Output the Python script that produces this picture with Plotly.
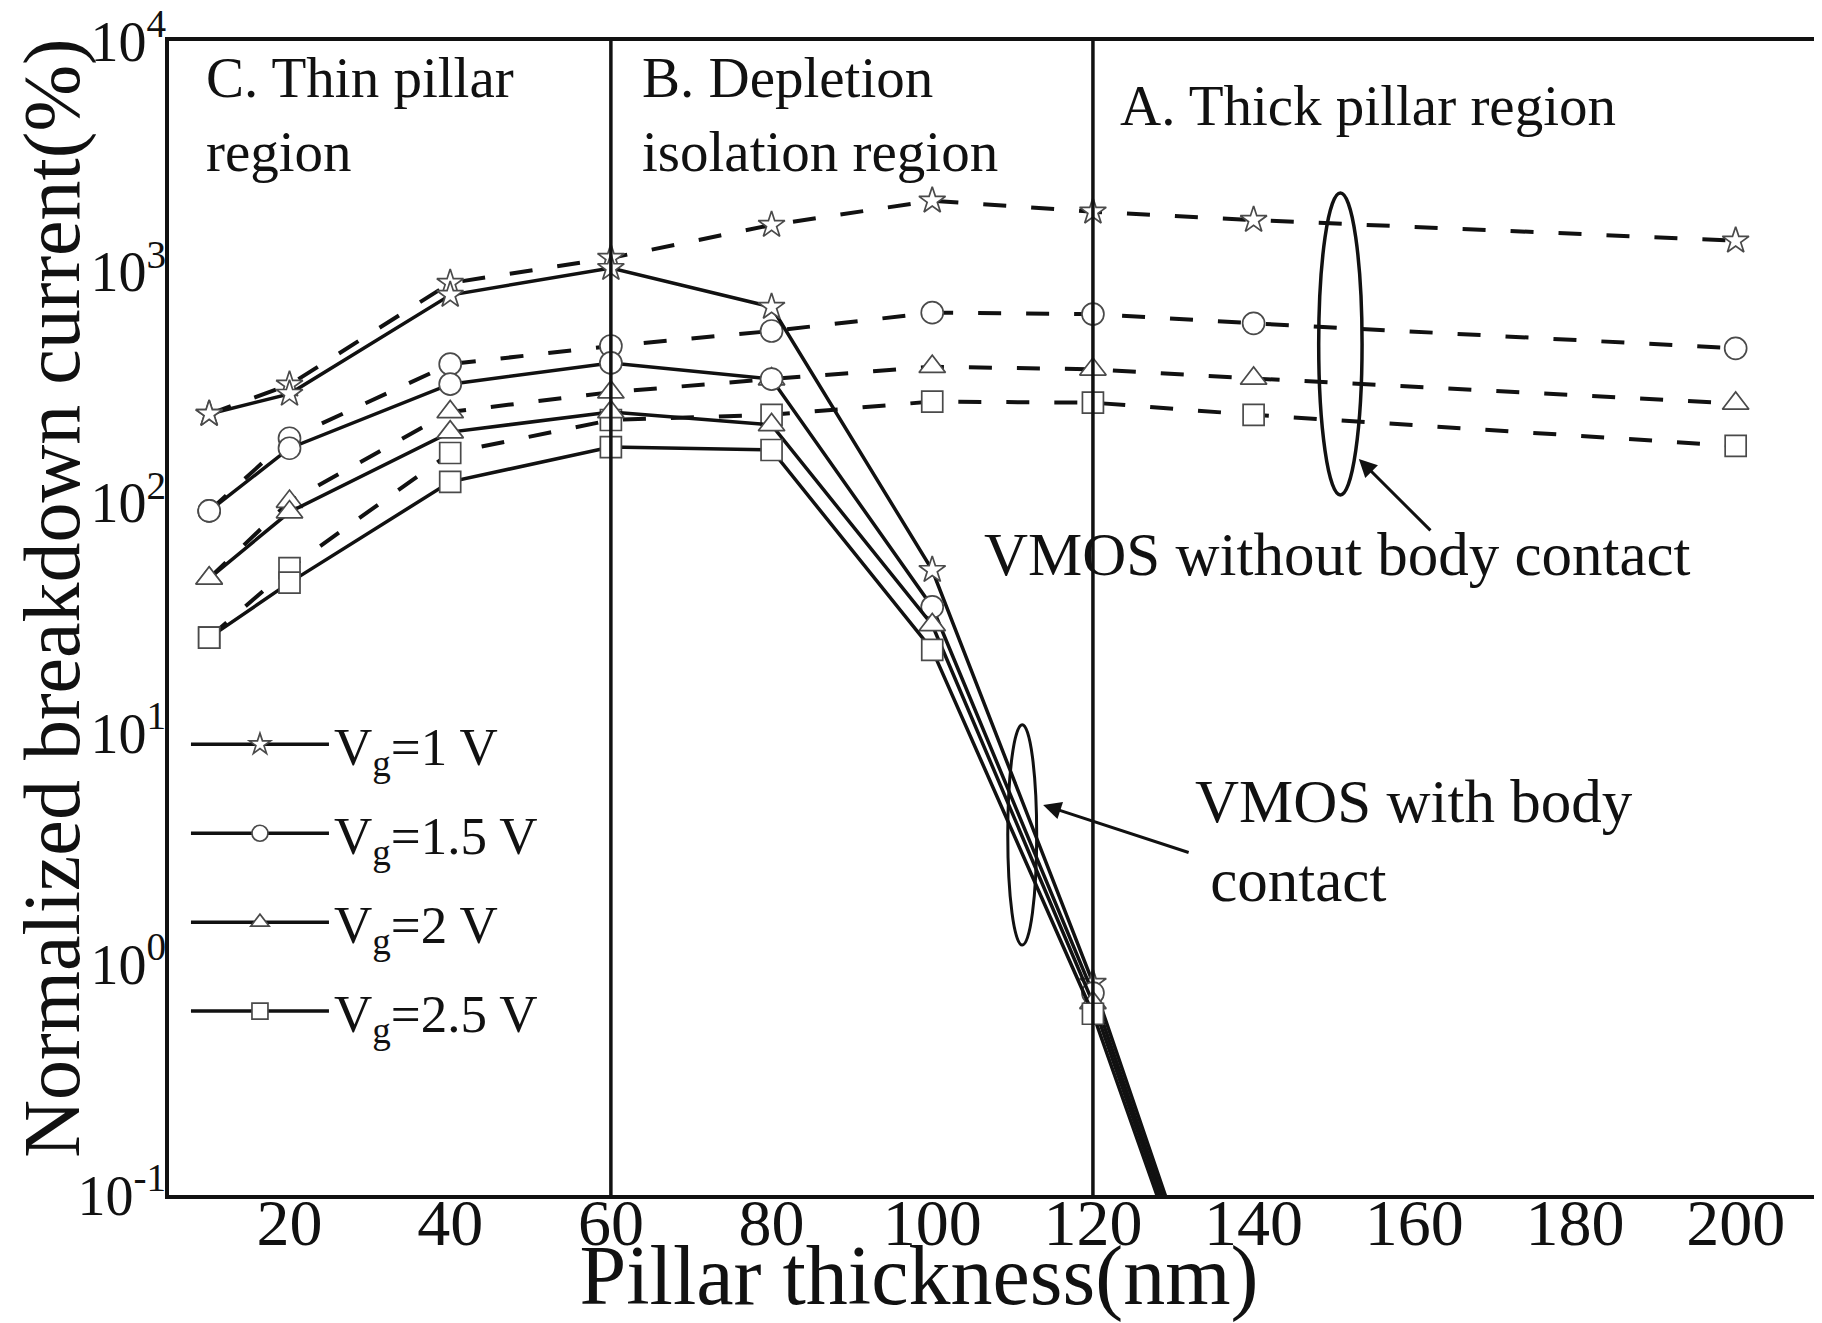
import plotly.graph_objects as go

# ---------------- data ----------------
thickness_no_contact = [10, 20, 40, 60, 80, 100, 120, 140, 200]
no_contact_vg1 = [242, 324, 894, 1148, 1595, 2033, 1821, 1676, 1364]
no_contact_vg15 = [92, 190, 398, 477, 554, 665, 656, 598, 466]
no_contact_vg2 = [47, 101, 247, 301, 343, 388, 378, 345, 269]
no_contact_vg25 = [26, 52, 164, 228, 240, 274, 271, 240, 176]

thickness_contact = [10, 20, 40, 60, 80, 100, 120, 140]
contact_vg1 = [242, 296, 793, 1038, 704, 51, 0.83, 0.0075]
contact_vg15 = [92, 172, 326, 403, 343, 35.3, 0.75, 0.007]
contact_vg2 = [47, 91, 202, 247, 217, 29.5, 0.68, 0.0068]
contact_vg25 = [26, 45, 123, 174, 169, 23, 0.61, 0.0065]

series_names = ["V<sub>g</sub>=1 V", "V<sub>g</sub>=1.5 V", "V<sub>g</sub>=2 V", "V<sub>g</sub>=2.5 V"]
series_symbols = ["star", "circle", "triangle-up", "square"]
series_marker_sizes = [20, 22, 23, 21]

x_tick_vals = [20, 40, 60, 80, 100, 120, 140, 160, 180, 200]
y_tick_vals = [0.1, 1, 10, 100, 1000, 10000]
y_tick_text = ["10<sup>-1</sup>", "10<sup>0</sup>", "10<sup>1</sup>", "10<sup>2</sup>",
               "10<sup>3</sup>", "10<sup>4</sup>"]

region_boundaries = [60, 120]

FONT = "Liberation Serif, Times New Roman, serif"
INK = "#111111"
MARK_EDGE = "#4a4a4a"

fig = go.Figure()

no_contact = [no_contact_vg1, no_contact_vg15, no_contact_vg2, no_contact_vg25]
contact = [contact_vg1, contact_vg15, contact_vg2, contact_vg25]

for name, sym, msize, ys in zip(series_names, series_symbols, series_marker_sizes, no_contact):
    fig.add_trace(go.Scatter(
        x=thickness_no_contact, y=ys, mode="lines+markers", name=name + " (no body contact)",
        showlegend=False,
        line=dict(color=INK, width=4, dash="23px,25px"),
        marker=dict(symbol=sym, size=msize, color="white", line=dict(color=MARK_EDGE, width=1.7)),
    ))

for i, (name, sym, msize, ys) in enumerate(zip(series_names, series_symbols, series_marker_sizes, contact)):
    fig.add_trace(go.Scatter(
        x=thickness_contact, y=ys, mode="lines+markers", name=name,
        legendgroup="g%d" % i,
        line=dict(color=INK, width=3.5),
        marker=dict(symbol=sym, size=msize, color="white", line=dict(color=MARK_EDGE, width=1.7)),
    ))

shapes = []
for xb in region_boundaries:
    shapes.append(dict(type="line", xref="x", yref="y domain", x0=xb, x1=xb, y0=0, y1=1,
                       line=dict(color=INK, width=3.5)))
# ellipses grouping the curves
shapes.append(dict(type="circle", xref="x", yref="y", x0=148.1, x1=153.5, y0=108, y1=2193,
                   line=dict(color=INK, width=3.5)))
shapes.append(dict(type="circle", xref="x", yref="y", x0=109.4, x1=113.0, y0=1.21, y1=10.9,
                   line=dict(color=INK, width=3)))

txt = dict(family=FONT, size=57, color=INK)
big = dict(family=FONT, size=61, color=INK)
annotations = [
    dict(text="C. Thin pillar<br>region", xref="paper", yref="paper", x=0.021, y=0.936,
         xanchor="left", yanchor="middle", align="left", showarrow=False, font=txt),
    dict(text="B. Depletion<br>isolation region", xref="paper", yref="paper", x=0.286, y=0.936,
         xanchor="left", yanchor="middle", align="left", showarrow=False, font=txt),
    dict(text="A. Thick pillar region", xref="paper", yref="paper", x=0.576, y=0.944,
         xanchor="left", yanchor="middle", align="left", showarrow=False, font=txt),
    dict(text="VMOS without body contact", xref="paper", yref="paper", x=0.4935, y=0.5546,
         xanchor="left", yanchor="middle", align="left", showarrow=False, font=big),
    dict(text="VMOS with body<br>&nbsp;contact", xref="paper", yref="paper", x=0.622, y=0.307,
         xanchor="left", yanchor="middle", align="left", showarrow=False, font=big),
    # arrows (annotation coordinates on a log axis are log10 values)
    dict(text="", x=153.1, y=2.189, ax=162.2, ay=1.873, xref="x", yref="y", axref="x", ayref="y",
         showarrow=True, arrowhead=2, arrowsize=1.2, arrowwidth=3, arrowcolor=INK),
    dict(text="", x=113.8, y=0.690, ax=132.1, ay=0.482, xref="x", yref="y", axref="x", ayref="y",
         showarrow=True, arrowhead=2, arrowsize=1.2, arrowwidth=3, arrowcolor=INK),
]

# the page body adds an 8 px margin, so the figure is 8 px smaller and margins shifted
fig.update_layout(
    width=1814, height=1315,
    margin=dict(l=161, r=6, t=33, b=128, autoexpand=False),
    paper_bgcolor="white", plot_bgcolor="white",
    font=dict(family=FONT, color=INK),
    shapes=shapes, annotations=annotations,
    showlegend=True,
    legend=dict(x=0.0103, y=0.426, xanchor="left", yanchor="top",
                font=dict(family=FONT, size=53, color=INK),
                bgcolor="rgba(0,0,0,0)", itemwidth=138, tracegroupgap=17,
                traceorder="grouped"),
)
fig.update_xaxes(
    range=[5, 210], tickvals=x_tick_vals, ticks="", showgrid=False, zeroline=False,
    showline=True, mirror=True, linecolor=INK, linewidth=3.5,
    tickfont=dict(family=FONT, size=66, color=INK), ticklabelstandoff=-33,
    title=dict(text="Pillar thickness(nm)" + "&nbsp;" * 7,
               font=dict(family=FONT, size=84, color=INK), standoff=33),
    automargin=False,
)
fig.update_yaxes(
    type="log", range=[-1, 4], tickvals=y_tick_vals, ticktext=y_tick_text, ticks="",
    showgrid=False, zeroline=False, showline=True, mirror=True, linecolor=INK, linewidth=3.5,
    tickfont=dict(family=FONT, size=56, color=INK), ticklabelstandoff=-12,
    ticklabeloverflow="allow",
    title=dict(text="&nbsp;&nbsp;Normalized breakdown current(%)",
               font=dict(family=FONT, size=80, color=INK), standoff=0),
    automargin=False,
)

fig.write_html("out.html")
